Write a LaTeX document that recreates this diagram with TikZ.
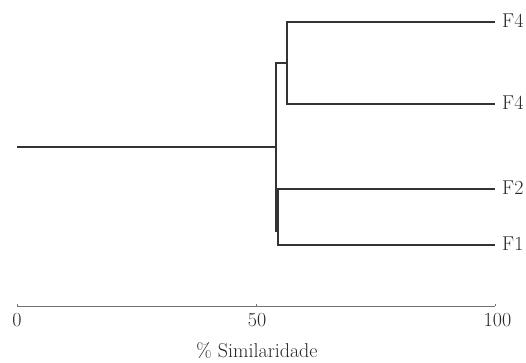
\documentclass[tikz,border=0pt]{standalone}
\usepackage{fontspec}
\begin{document}
\begin{tikzpicture}[x=1pt,y=-1pt,
  dend/.style={draw=black!80,line width=1.3pt},
  axisline/.style={draw=black!55,line width=0.9pt},
  lab/.style={font=\fontsize{20}{23}\selectfont,text=black!85,inner sep=0pt}]
\useasboundingbox (0,0) rectangle (526,362);
% leaf coordinates
\coordinate (l1) at (495,22);
\coordinate (l2) at (495,104);
\coordinate (l3) at (495,189);
\coordinate (l4) at (495,245);
\coordinate (root) at (17,147);
% cluster joins
\coordinate (a1) at (287,22);
\coordinate (a2) at (287,104);
\coordinate (am) at (287,63);
\coordinate (b1) at (278,189);
\coordinate (b2) at (278,245);
\coordinate (r1) at (276,63);
\coordinate (r2) at (276,232);
\coordinate (rm) at (276,147);
\draw[dend] (l1) -- (a1) -- (a2) -- (l2);
\draw[dend] (am) -- (r1) -- (r2);
\draw[dend] (l3) -- (b1) -- (b2) -- (l4);
\draw[dend] (root) -- (rm);
% labels
\node[lab,anchor=west] (t1) at (502,21) {F4};
\node[lab,anchor=west] (t2) at (502,103) {F4};
\node[lab,anchor=west] (t3) at (502,188) {F2};
\node[lab,anchor=west] (t4) at (502,244) {F1};
% axis
\coordinate (x0) at (17,306);
\coordinate (x50) at (256,306);
\coordinate (x100) at (495,306);
\draw[axisline] (x0) -- (x100);
\foreach \p in {x0,x50,x100} \draw[axisline] (\p) -- ++(0,-2.5);
\node[lab] (n0) at (17,320) {0};
\node[lab] (n50) at (257,320) {50};
\node[lab] (n100) at (497.5,320) {100};
\node[lab] (title) at (257,351) {\% Similaridade};
\end{tikzpicture}
\end{document}
